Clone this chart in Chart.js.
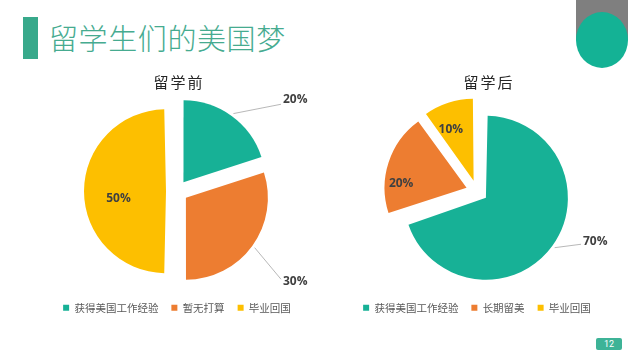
<!DOCTYPE html>
<html>
<head>
<meta charset="utf-8">
<script src="https://cdn.jsdelivr.net/npm/chart.js@4/dist/chart.umd.min.js"></script>
<style>
  html, body { margin: 0; padding: 0; background: #fff; }
  body { width: 640px; height: 360px; position: relative; overflow: hidden;
         font-family: "Noto Sans CJK SC", "Noto Sans", sans-serif; }
  .bar { position: absolute; left: 23px; top: 17px; width: 15px; height: 42px; background: #38a98b; }
  .heading { position: absolute; left: 49px; top: 16px; height: 42px; line-height: 42px;
             font-size: 29px; font-weight: 300; color: #46ab90; letter-spacing: 0.6px; }
  .grey { position: absolute; left: 576px; top: 0; width: 52px; height: 40px; background: #7f7f7f; }
  .dot { position: absolute; left: 576px; top: 12px; width: 52px; height: 56px; border-radius: 50%; background: #14b295; }
  .page { position: absolute; left: 596px; top: 338px; width: 26px; height: 12px; border-radius: 2px;
          background: #3db397; color: #fff; font-size: 9px; line-height: 12px; text-align: center; font-family: Roboto, sans-serif; }
  .box { position: absolute; top: 62px; width: 280px; height: 261px; }
  .sub { position: absolute; top: 72px; width: 120px; height: 20px; line-height: 20px; text-align: center;
         font-size: 15px; color: #262626; letter-spacing: 2px; text-indent: 2px; }
</style>
</head>
<body>
<div class="bar"></div>
<div class="heading">留学生们的美国梦</div>
<div class="grey"></div>
<div class="dot"></div>
<div class="page">12</div>
<div class="box" style="left:37px"><canvas id="beforeChart"></canvas></div>
<div class="box" style="left:337px"><canvas id="afterChart"></canvas></div>
<div class="sub" id="beforeTitle" style="left:118px"></div>
<div class="sub" id="afterTitle" style="left:428px"></div>

<script>
// data
const beforeTitle = '留学前';
const beforeLabels = ['获得美国工作经验', '暂无打算', '毕业回国'];
const beforeValues = [20, 30, 50];

const afterTitle = '留学后';
const afterLabels = ['获得美国工作经验', '长期留美', '毕业回国'];
const afterValues = [70, 20, 10];

const sliceColors = ['#17b196', '#ed7d31', '#fdbf00'];

// Chart.js moves an arc by offset/4 and also grows big arcs by that much;
// keep every slice at the same radius so only the shift remains
const evenRadius = {
  id: 'evenRadius',
  beforeDatasetsDraw(chart) {
    const meta = chart.getDatasetMeta(0);
    const base = meta.controller.outerRadius;
    meta.data.forEach(arc => {
      const circ = arc.endAngle - arc.startAngle;
      const shift = (arc.options.offset || 0) / 4;
      const fix = 1 - Math.sin(Math.min(Math.PI, circ));
      arc.outerRadius = base - shift * fix;
    });
  }
};

// percent labels: inside ones sit along the slice's mid angle, outside ones get a leader line
const pieLabels = {
  id: 'pieLabels',
  afterDatasetsDraw(chart, args, opts) {
    const ctx = chart.ctx;
    const meta = chart.getDatasetMeta(0);
    const base = meta.controller.outerRadius;
    const values = chart.data.datasets[0].data;
    const total = values.reduce((a, b) => a + b, 0);
    meta.data.forEach((arc, i) => {
      const mid = (arc.startAngle + arc.endAngle) / 2;
      const off = (arc.options.offset || 0) / 4;
      const cx = arc.x + Math.cos(mid) * off;
      const cy = arc.y + Math.sin(mid) * off;
      const text = Math.round(values[i] / total * 100) + '%';
      const place = opts.places[i];
      ctx.save();
      ctx.font = 'bold 12px "Open Sans", "Noto Sans", sans-serif';
      ctx.fillStyle = '#404040';
      ctx.textBaseline = 'middle';
      if (place.inside) {
        const r = base * place.inside;
        ctx.textAlign = 'center';
        ctx.fillText(text, cx + Math.cos(mid) * r + (place.dx || 0), cy + Math.sin(mid) * r + (place.dy || 0));
      } else {
        const sx = cx + Math.cos(mid) * (base + 3);
        const sy = cy + Math.sin(mid) * (base + 3);
        const tx = arc.x + base + 24;
        const ty = arc.y + place.dy;
        ctx.strokeStyle = '#a6a6a6';
        ctx.lineWidth = 0.8;
        ctx.beginPath();
        ctx.moveTo(sx, sy);
        ctx.lineTo(tx - 2, ty + place.lineDy);
        ctx.stroke();
        ctx.textAlign = 'left';
        ctx.fillText(text, tx, ty);
      }
      ctx.restore();
    });
  }
};

function makePie(id, title, labels, values, places) {
  document.getElementById(id.replace('Chart', 'Title')).textContent = title;
  return new Chart(document.getElementById(id), {
    type: 'pie',
    data: {
      labels: labels,
      datasets: [{
        data: values,
        backgroundColor: sliceColors,
        borderWidth: 0,
        offset: 44
      }]
    },
    options: {
      responsive: true,
      maintainAspectRatio: false,
      animation: false,
      radius: 82,
      layout: { padding: { top: 31 } },
      plugins: {
        legend: {
          position: 'bottom',
          labels: {
            usePointStyle: true,
            pointStyle: 'rect',
            boxWidth: 6,
            boxHeight: 6,
            padding: 13,
            color: '#595959',
            font: { size: 10.5, family: '"Noto Sans CJK SC", sans-serif' }
          }
        },
        tooltip: { enabled: false },
        pieLabels: { places: places }
      }
    },
    plugins: [evenRadius, pieLabels]
  });
}

makePie('beforeChart', beforeTitle, beforeLabels, beforeValues, [
  { dy: -92, lineDy: 5 },
  { dy: 90, lineDy: -2 },
  { inside: 0.58, dy: 7 }
]);

makePie('afterChart', afterTitle, afterLabels, afterValues, [
  { dy: 50, lineDy: 3 },
  { inside: 0.8, dx: -3, dy: 16 },
  { inside: 0.7, dx: -5, dy: 3 }
]);
</script>
</body>
</html>
